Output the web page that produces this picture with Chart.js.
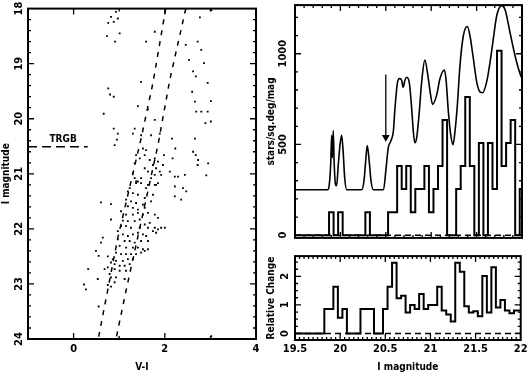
<!DOCTYPE html>
<html>
<head>
<meta charset="utf-8">
<title>CMD and TRGB luminosity function</title>
<script src="https://cdn.jsdelivr.net/npm/chart.js@4.4.1/dist/chart.umd.min.js"></script>
<style>
  body { margin: 0; background: #fff; }
  #page { position: relative; width: 530px; height: 376px; overflow: hidden; }
  #page canvas { position: absolute; }
  #cmd { left: 0; top: 0; }
  #lf { left: 265px; top: 0; }
  #rel { left: 265px; top: 243px; }
</style>
</head>
<body>
<div id="page">
  <canvas id="cmd" width="265" height="376"></canvas>
  <canvas id="lf" width="265" height="243"></canvas>
  <canvas id="rel" width="265" height="133"></canvas>
</div>
<script>
// ---- colour-magnitude diagram, [V-I, I] ----
const cmdStars = [
  [0.93,18.06],[0.82,18.15],[0.97,18.18],[0.76,18.26],[0.88,18.24],[3.02,18.03],[2.77,18.16],
  [0.73,18.50],[1.01,18.45],[0.91,18.60],[1.78,18.42],[1.59,18.60],[2.46,18.66],[2.72,18.60],
  [2.80,18.75],[2.53,18.93],[2.86,18.99],[2.62,19.14],[2.68,19.23],[2.94,19.35],[1.48,19.33],
  [2.60,19.51],[0.76,19.45],[0.80,19.56],[0.88,19.60],[2.66,19.69],[3.01,19.68],[1.41,19.77],
  [1.63,19.83],[2.69,19.87],[2.80,19.87],[2.94,19.87],[0.66,19.91],[1.78,20.02],[2.89,20.08],
  [3.01,20.05],[1.34,20.18],[0.88,20.18],[0.97,20.27],[0.95,20.38],[0.90,20.48],[1.30,20.27],
  [1.48,20.30],[1.70,20.30],[1.89,20.27],[2.16,20.36],[2.66,20.36],[1.52,20.54],[1.59,20.57],
  [1.37,20.66],[1.45,20.72],[1.34,20.81],[1.56,20.66],[1.67,20.75],[1.78,20.72],[1.74,20.84],
  [1.85,20.78],[1.98,20.66],[1.96,20.84],[2.17,20.72],[2.23,20.54],[2.62,20.60],[2.68,20.66],
  [2.73,20.75],[2.72,20.84],[2.95,20.81],[1.56,20.90],[1.63,20.96],[1.81,20.90],[1.89,20.96],
  [1.30,20.99],[1.34,21.08],[1.41,21.14],[1.48,21.08],[1.70,21.08],[1.78,21.02],[1.92,21.02],
  [2.11,20.96],[2.22,21.05],[2.29,21.05],[2.44,21.02],[2.91,21.03],[1.23,21.26],[1.37,21.17],
  [1.59,21.26],[1.81,21.20],
  [1.37,21.14],[1.48,21.17],[1.63,21.20],[1.78,21.20],[1.85,21.17],[2.22,21.23],[2.40,21.26],
  [2.47,21.32],[2.22,21.41],[2.36,21.47],[1.19,21.32],[1.30,21.35],[1.41,21.38],[1.56,21.44],
  [1.74,21.38],[1.15,21.47],[1.26,21.50],[1.37,21.53],[1.52,21.56],[1.70,21.50],[1.19,21.59],
  [1.30,21.62],[1.41,21.65],[1.56,21.62],[0.60,21.52],[0.82,21.55],[1.04,21.68],[1.15,21.74],
  [1.30,21.74],[1.41,21.71],[1.52,21.74],[1.63,21.71],[1.78,21.74],[1.85,21.80],[0.82,21.83],
  [1.08,21.85],[1.19,21.86],[1.34,21.86],[1.45,21.83],[1.56,21.92],[1.67,21.89],[1.04,21.95],
  [1.15,21.95],[1.26,21.98],[1.45,21.98],[1.63,21.98],[1.78,21.98],[1.92,21.98],[2.00,21.98],
  [1.74,22.04],[1.81,22.07],[1.85,22.01],[0.97,22.04],[1.08,22.10],[1.19,22.13],[1.30,22.10],
  [1.41,22.07],[1.52,22.10],[1.59,22.13],[0.97,22.19],[1.12,22.22],[1.23,22.22],[1.34,22.25],
  [1.48,22.22],[1.63,22.22],[0.64,22.16],[0.60,22.25],[1.01,22.31],[1.15,22.34],[1.30,22.34],
  [1.41,22.34],[1.52,22.37],[1.63,22.37],[1.56,22.40],[0.49,22.40],[0.55,22.49],[0.75,22.50],
  [0.93,22.43],[1.04,22.46],[1.15,22.46],[1.26,22.46],[1.37,22.46],[1.48,22.43],[0.86,22.55],
  [0.93,22.58],[1.08,22.58],[1.19,22.55],[1.30,22.55],[0.82,22.61],[0.90,22.64],[1.01,22.67],
  [1.12,22.67],[1.23,22.64],[0.32,22.73],[0.68,22.73],[0.75,22.70],[0.90,22.73],[1.01,22.76],
  [1.15,22.76],[0.79,22.82],[0.53,22.91],[0.82,22.88],[0.93,22.88],[1.12,22.91],[0.23,23.01],
  [0.27,23.10],[0.75,23.02],[0.82,23.05],[0.90,22.97],[0.55,23.41],[3.02,23.95]
];
// dashed ridge lines bounding the red giant branch
const ridgeBlueColor = [2.02, 1.74, 1.48, 0.97, 0.54];
const ridgeBlueMag = [18.0, 19.35, 20.36, 22.16, 24.0];
const ridgeRedColor = [2.46, 2.11, 1.85, 1.15, 0.93];
const ridgeRedMag = [18.0, 19.29, 20.48, 23.12, 24.0];
const trgbColor = [-1, 0.31];
const trgbMag = 20.51;

// ---- luminosity function (bins 0.05 mag wide) ----
const binMag = [19.5,19.55,19.6,19.65,19.7,19.75,19.8,19.85,19.9,19.95,20,20.05,20.1,20.15,20.2,20.25,20.3,
  20.35,20.4,20.45,20.5,20.55,20.6,20.65,20.7,20.75,20.8,20.85,20.9,20.95,21,21.05,21.1,21.15,21.2,21.25,
  21.3,21.35,21.4,21.45,21.5,21.55,21.6,21.65,21.7,21.75,21.8,21.85,21.9,21.95,22];
const lfHist = [0,0,0,0,0,0,0,0,127,0, 127,0,0,0,0,0,127,0,0,0, 0,127,127,381,254,381,127,254,254,381,
  127,254,381,635,0,0,254,381,762,381, 0,508,0,508,254,1016,381,508,635,0, 254];
const lfCurveMag = [19.5,19.86,19.878,19.893,19.904,19.911,19.921,19.932,19.947,19.958,19.977,19.996,20.014,
  20.03,20.047,20.069,20.234,20.26,20.277,20.296,20.317,20.337,20.362,20.475,20.5,20.527,20.554,20.583,20.601,
  20.627,20.65,20.675,20.69,20.711,20.73,20.759,20.785,20.803,20.82,20.84,20.869,20.895,20.93,20.968,20.994,
  21.015,21.06,21.097,21.145,21.163,21.189,21.215,21.24,21.262,21.288,21.317,21.354,21.398,21.427,21.464,
  21.501,21.537,21.565,21.611,21.648,21.684,21.721,21.776,21.813,21.868,21.923,21.978,22.0];
const lfCurveVal = [250,250,281,390,550,427,576,390,278,272,390,499,550,463,318,250,250,300,400,494,409,300,250,
  250,354,481,518,572,699,836,863,854,815,854,870,840,699,572,509,536,681,845,965,863,772,721,772,863,910,860,
  681,554,499,572,717,935,1099,1150,1099,974,845,790,785,845,953,1081,1208,1265,1244,1117,990,890,865];
const arrowMag = 20.5;
const arrowVal = [885, 540];
const relChange = [0,0,0,0,0,0,0,0.86,0.86,1.64, 0.55,0.86,0,0,0,0.86,0.86,0.86,0,0,
  0.86,1.64,2.48,1.23,1.32,0.73,1.0,0.86,1.38,0.86, 1.0,1.0,1.64,0.8,0.66,0.42,2.48,2.16,0.95,0.73,
  0.78,0.6,2.01,0.73,2.32,0.91,1.17,0.8,0.71,0.8, 0.8];

// ---- tick labels ----
const cmdTicksX = [0, 2, 4];
const cmdTicksY = [18, 19, 20, 21, 22, 23, 24];
const magTicks = [19.5, 20, 20.5, 21, 21.5, 22];
const lfTicksY = [0, 500, 1000];
const relTicksY = [0, 1, 2];

const FONT = "'Liberation Sans Narrow', 'DejaVu Sans Condensed', sans-serif";
Chart.defaults.font.family = FONT;
Chart.defaults.font.weight = "bold";
Chart.defaults.color = "#000";
Chart.defaults.animation = false;
Chart.defaults.plugins.legend.display = false;
Chart.defaults.plugins.tooltip.enabled = false;

function steps(from, to, step) {
  const out = [];
  for (let v = from; v <= to + 1e-9; v += step) out.push(+v.toFixed(3));
  return out;
}

// inward ticks on all four sides + box frame (PGPLOT look)
const frameTicks = {
  id: "frameTicks",
  afterDatasetsDraw(chart, args, opts) {
    const { ctx, chartArea: a } = chart;
    const sx = chart.scales.x, sy = chart.scales.y;
    ctx.save();
    ctx.strokeStyle = "#000";
    ctx.lineWidth = 1.3;
    ctx.beginPath();
    const vert = (vals, len) => vals.forEach((v) => {
      const p = sx.getPixelForValue(v);
      if (p < a.left + 1 || p > a.right - 1) return;
      ctx.moveTo(p, a.bottom); ctx.lineTo(p, a.bottom - len);
      ctx.moveTo(p, a.top); ctx.lineTo(p, a.top + len);
    });
    const horiz = (vals, len) => vals.forEach((v) => {
      const p = sy.getPixelForValue(v);
      if (p < a.top + 1 || p > a.bottom - 1) return;
      ctx.moveTo(a.left, p); ctx.lineTo(a.left + len, p);
      ctx.moveTo(a.right, p); ctx.lineTo(a.right - len, p);
    });
    vert(opts.xMajor || [], 6);
    vert(opts.xMinor || [], 3);
    horiz(opts.yMajor || [], 6);
    horiz(opts.yMinor || [], 3);
    ctx.stroke();
    ctx.lineWidth = 2;
    ctx.strokeRect(a.left, a.top, a.right - a.left, a.bottom - a.top);
    if (opts.note) {
      ctx.fillStyle = "#000";
      ctx.font = "bold 10px " + FONT;
      ctx.textAlign = "center";
      ctx.textBaseline = "middle";
      ctx.fillText(opts.note.text, sx.getPixelForValue(opts.note.x), sy.getPixelForValue(opts.note.y));
    }
    ctx.restore();
  }
};

const tickFont = { size: 11, weight: "bold" };
const titleFont = { size: 10, weight: "bold" };
const noGrid = { display: false, drawTicks: false };
const fixTicks = (vals) => (s) => { s.ticks = vals.map((v) => ({ value: v })); };

function yAxis(min, max, ticks, title, pad, width, reverse) {
  return {
    type: "linear", min: min, max: max, reverse: !!reverse,
    grid: noGrid, border: { display: false },
    afterBuildTicks: fixTicks(ticks),
    afterFit: (s) => { s.width = width; },
    ticks: { font: tickFont, minRotation: 90, maxRotation: 90, crossAlign: "center", padding: pad,
      autoSkip: false, callback: (v) => String(v) },
    title: { display: true, text: title, font: titleFont, padding: { top: 0, bottom: 0 } }
  };
}

function xAxis(min, max, ticks, title, pad, height) {
  return {
    type: "linear", min: min, max: max,
    grid: noGrid, border: { display: false },
    afterBuildTicks: fixTicks(ticks),
    afterFit: (s) => { s.height = height; },
    ticks: { font: tickFont, padding: pad, autoSkip: false, maxRotation: 0, callback: (v) => String(v) },
    title: { display: true, text: title, font: titleFont, padding: { top: 0, bottom: 3 } }
  };
}

// ---- left: colour-magnitude diagram ----
new Chart(document.getElementById("cmd"), {
  type: "scatter",
  data: {
    datasets: [
      {
        data: cmdStars.map(([x, y]) => ({ x: x, y: y })),
        pointStyle: "rect", pointRadius: 1.3, pointBorderWidth: 0, backgroundColor: "#000"
      },
      {
        data: ridgeBlueColor.map((x, i) => ({ x: x, y: ridgeBlueMag[i] })),
        showLine: true, borderColor: "#000", borderWidth: 1.5, borderDash: [5, 6], pointRadius: 0
      },
      {
        data: ridgeRedColor.map((x, i) => ({ x: x, y: ridgeRedMag[i] })),
        showLine: true, borderColor: "#000", borderWidth: 1.5, borderDash: [5, 6], pointRadius: 0
      },
      {
        data: trgbColor.map((x) => ({ x: x, y: trgbMag })),
        showLine: true, borderColor: "#000", borderWidth: 1.5, borderDash: [9, 5], pointRadius: 0
      }
    ]
  },
  options: {
    responsive: false,
    layout: { autoPadding: false, padding: { left: 0, right: 9, top: 5, bottom: 0 } },
    scales: {
      x: xAxis(-1, 4, cmdTicksX, "V-I", 3.4, 37),
      y: yAxis(18, 24, cmdTicksY, "I magnitude", 2, 28, true)
    },
    plugins: {
      frameTicks: {
        xMajor: [0, 2], xMinor: [1, 3],
        yMajor: cmdTicksY, yMinor: steps(18, 24, 0.2),
        note: { text: "TRGB", x: -0.23, y: 20.38 }
      }
    }
  },
  plugins: [frameTicks]
});

// ---- right top: luminosity function ----
new Chart(document.getElementById("lf"), {
  type: "scatter",
  data: {
    datasets: [
      {
        data: binMag.map((x) => ({ x: x, y: 0 })),
        showLine: true, borderColor: "#000", borderWidth: 1.5, borderDash: [6, 4], pointRadius: 0
      },
      {
        data: binMag.map((x, i) => ({ x: x, y: lfHist[i] })),
        showLine: true, stepped: "middle", borderColor: "#000", borderWidth: 2, pointRadius: 0
      },
      {
        data: lfCurveMag.map((x, i) => ({ x: x, y: lfCurveVal[i] })),
        showLine: true, cubicInterpolationMode: "monotone", borderColor: "#000", borderWidth: 1.6, pointRadius: 0
      },
      {
        data: arrowVal.map((y) => ({ x: arrowMag, y: y })),
        showLine: true, borderColor: "#000", borderWidth: 1.3,
        pointRadius: [0, 4.5], pointStyle: "triangle", pointRotation: 180,
        backgroundColor: "#000", pointBorderWidth: 0
      }
    ]
  },
  options: {
    responsive: false,
    layout: { autoPadding: false, padding: { left: 0, right: 8, top: 5, bottom: 2 } },
    scales: {
      x: { type: "linear", min: 19.5, max: 22, display: false },
      y: yAxis(-15, 1268, lfTicksY, "stars/sq.deg/mag", -1.5, 30)
    },
    plugins: {
      frameTicks: {
        xMajor: magTicks, xMinor: steps(19.5, 22, 0.1),
        yMajor: lfTicksY, yMinor: steps(100, 1200, 100)
      }
    }
  },
  plugins: [frameTicks]
});

// ---- right bottom: relative change ----
new Chart(document.getElementById("rel"), {
  type: "scatter",
  data: {
    datasets: [
      {
        data: binMag.map((x) => ({ x: x, y: 0 })),
        showLine: true, borderColor: "#000", borderWidth: 1.5, borderDash: [6, 4], pointRadius: 0
      },
      {
        data: binMag.map((x, i) => ({ x: x, y: relChange[i] })),
        showLine: true, stepped: "middle", borderColor: "#000", borderWidth: 2, pointRadius: 0
      }
    ]
  },
  options: {
    responsive: false,
    layout: { autoPadding: false, padding: { left: 0, right: 8, top: 2, bottom: 0 } },
    scales: {
      x: xAxis(19.5, 22, magTicks, "I magnitude", 2.4, 36),
      y: yAxis(-0.23, 2.71, relTicksY, "Relative Change", 6.5, 30)
    },
    plugins: {
      frameTicks: {
        xMajor: magTicks, xMinor: steps(19.5, 22, 0.05),
        yMajor: relTicksY, yMinor: steps(0, 2.5, 0.25)
      }
    }
  },
  plugins: [frameTicks]
});
</script>
</body>
</html>
